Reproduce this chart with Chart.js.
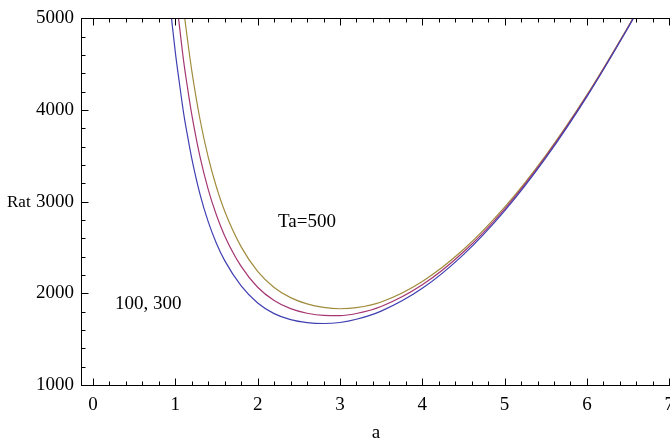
<!DOCTYPE html>
<html><head><meta charset="utf-8">
<script src="https://cdn.jsdelivr.net/npm/chart.js@4.4.0/dist/chart.umd.min.js"></script>
<style>
html,body{margin:0;padding:0;background:#fff;overflow:hidden;width:670px;height:444px}
#wrap{position:absolute;left:0;top:0;width:683px;height:444px}
</style>
</head><body>
<div id="wrap"><canvas id="c" width="683" height="444"></canvas></div>
<script>
// wave number a
const aValues = [0.95,1.0,1.05,1.1,1.15,1.2,1.3,1.4,1.5,1.6,1.8,2.0,2.2,2.4,2.6,2.8,3.0,3.2,3.5,4.0,4.5,5.0,5.5,6.0,6.5,6.6];
// Rat for Ta = 100, 300, 500
const ta100 = [5030,4630,4290,3970,3710,3470,3080,2780,2545,2357,2081,1895,1779,1713,1681,1671,1682,1717,1806,2055,2423,2900,3478,4147,4898,5058];
const ta300 = [5795,5320,4916,4540,4232,3949,3488,3132,2852,2627,2294,2067,1922,1833,1783,1759,1757,1780,1856,2093,2451,2920,3492,4157,4904,5063];
const ta500 = [6559,6010,5542,5110,4753,4428,3897,3484,3158,2896,2507,2240,2064,1953,1885,1847,1832,1844,1906,2130,2478,2940,3506,4165,4908,5066];
const seriesNames = ['Ta=100','Ta=300','Ta=500'];
const xTickLabels = [0,1,2,3,4,5,6,7];
const yTickLabels = [1000,2000,3000,4000,5000];
const xLabel = 'a';
const yLabel = 'Rat';
const notes = [{text:'Ta=500', x:2.6, y:2773},{text:'100, 300', x:0.67, y:1886}];

const FONT = '"Liberation Serif","Times New Roman",serif';
const colors = ['rgb(64,64,178)','rgb(165,55,115)','rgb(160,140,60)'];

const mk = (vals,i) => ({
  label: seriesNames[i],
  data: aValues.map((a,k)=>({x:a,y:vals[k]})),
  borderColor: colors[i], borderWidth: 1.2, pointRadius: 0, fill:false,
  cubicInterpolationMode:'monotone'
});

const framePlugin = {
  id:'frame',
  afterDraw(chart){
    const {ctx, chartArea:ca, scales:{x,y}} = chart;
    ctx.save();
    ctx.strokeStyle='#000'; ctx.lineWidth=1;
    const top = Math.round(ca.top)+0.5, bot = Math.round(ca.bottom)+0.5, left = Math.round(ca.left)+0.5;
    ctx.beginPath(); ctx.moveTo(left, top); ctx.lineTo(ca.right+12, top); ctx.stroke();
    const x0 = xTickLabels[0], x1 = xTickLabels[xTickLabels.length-1];
    for (let i=0; x0 + i*0.2 <= x1 + 1e-9; i++) {
      const v = x0 + i*0.2; const major = (i%5===0);
      const px = Math.round(x.getPixelForValue(v))+0.5; const L = major?7:4;
      ctx.beginPath(); ctx.moveTo(px, bot); ctx.lineTo(px, bot-L);
      ctx.moveTo(px, top); ctx.lineTo(px, top+L); ctx.stroke();
    }
    const y0 = yTickLabels[0], y1 = yTickLabels[yTickLabels.length-1];
    for (let i=0; y0 + i*200 <= y1; i++) {
      const v = y0 + i*200; const major = (i%5===0);
      const py = Math.round(y.getPixelForValue(v))+0.5; const L = major?7:4;
      ctx.beginPath(); ctx.moveTo(left, py); ctx.lineTo(left+L, py); ctx.stroke();
    }
    ctx.fillStyle='#000'; ctx.font = '19px '+FONT; ctx.textAlign='center'; ctx.textBaseline='middle';
    notes.forEach(n => ctx.fillText(n.text, x.getPixelForValue(n.x), y.getPixelForValue(n.y)));
    ctx.textAlign='left'; ctx.font = '17px '+FONT;
    ctx.fillText(yLabel, 7, y.getPixelForValue(2990));
    ctx.restore();
  }
};

new Chart(document.getElementById('c'), {
  type:'line',
  data:{ datasets:[mk(ta100,0), mk(ta300,1), mk(ta500,2)] },
  options:{
    responsive:false, animation:false, devicePixelRatio:1,
    layout:{padding:{top:15,left:0,right:0,bottom:0}},
    plugins:{legend:{display:false}, tooltip:{enabled:false}},
    scales:{
      x:{type:'linear', min:-0.146, max:7.02,
        afterBuildTicks: s => { s.ticks = xTickLabels.map(v=>({value:v})); },
        afterFit: s => { s.height = 59; },
        grid:{display:false, drawTicks:false},
        border:{display:true, color:'#000', width:1},
        ticks:{padding:9, color:'#000', font:{family:FONT, size:19}, maxRotation:0, autoSkip:false,
               callback: v => String(v)},
        title:{display:true, text:xLabel, color:'#000', font:{family:FONT, size:19}, padding:{top:2,bottom:0}}
      },
      y:{type:'linear', min:1000, max:5000,
        afterBuildTicks: s => { s.ticks = yTickLabels.map(v=>({value:v})); },
        afterFit: s => { s.width = 81; },
        grid:{display:false, drawTicks:false},
        border:{display:true, color:'#000', width:1},
        ticks:{padding:7, color:'#000', font:{family:FONT, size:19}, callback: v => String(v)}
      }
    }
  },
  plugins:[framePlugin]
});
</script>
</body></html>
